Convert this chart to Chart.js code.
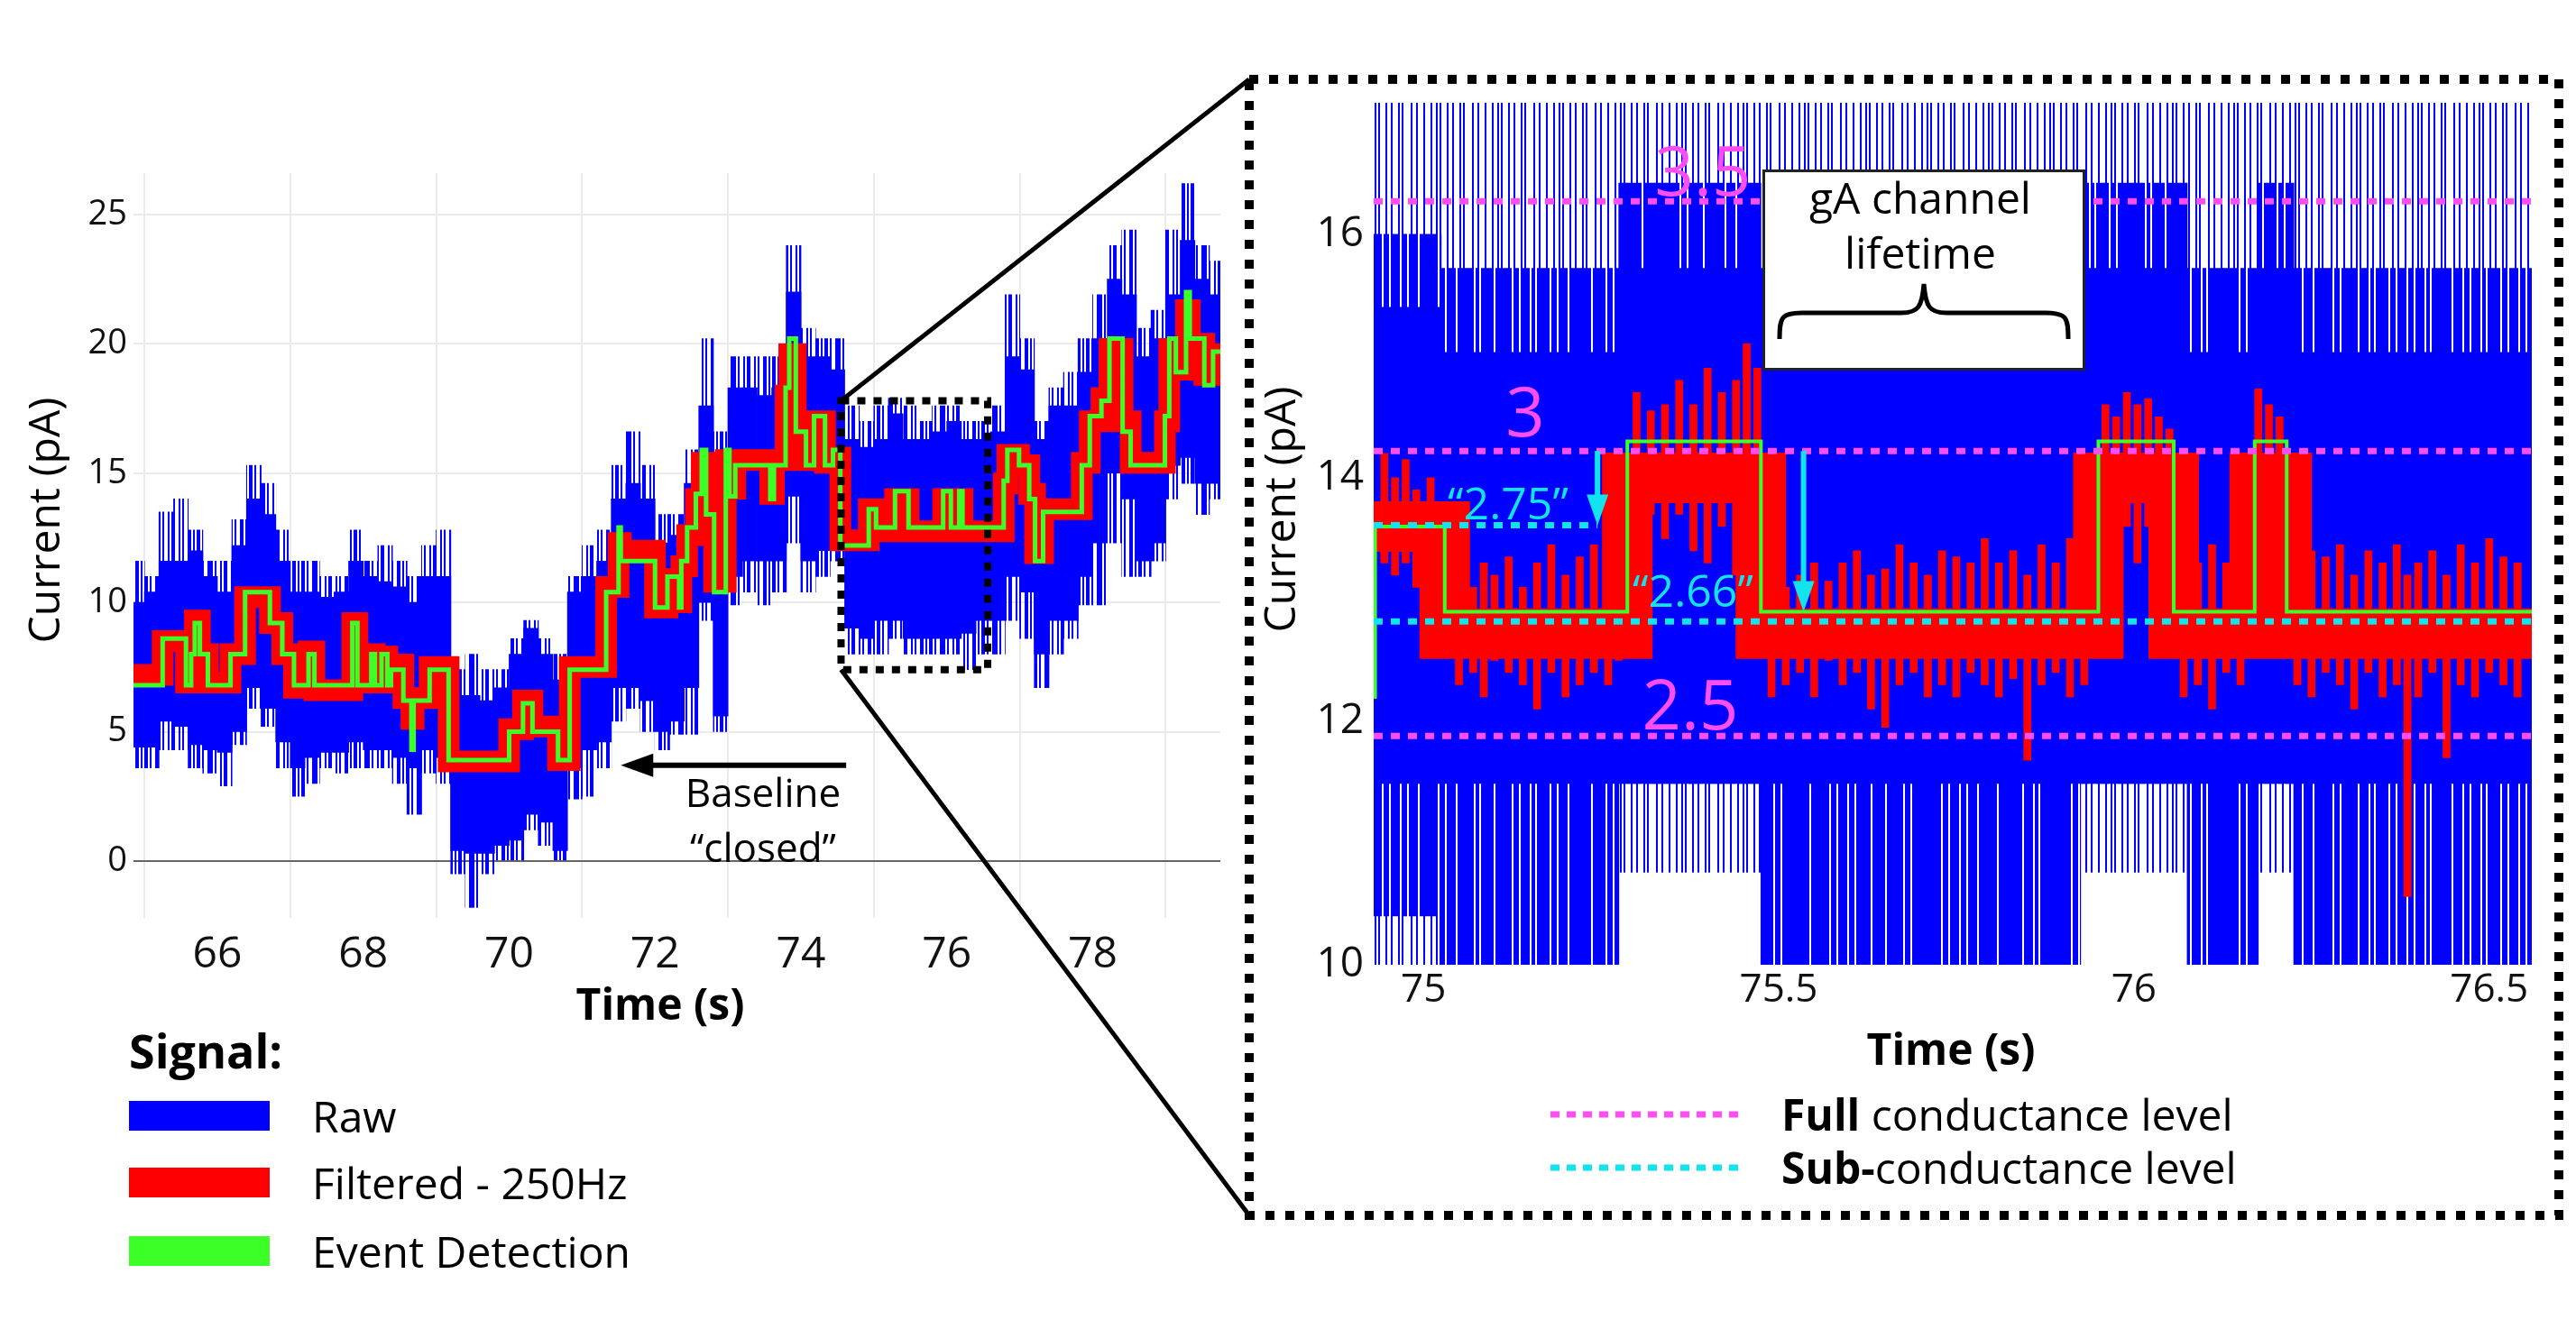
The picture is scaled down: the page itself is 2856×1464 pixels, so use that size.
<!DOCTYPE html>
<html><head><meta charset="utf-8">
<script src="https://cdn.jsdelivr.net/npm/chart.js@4.4.1/dist/chart.umd.min.js"></script>
<style>
html,body{margin:0;padding:0;background:#fff;}
body{width:2856px;height:1464px;position:relative;overflow:hidden;font-family:'Open Sans','Liberation Sans',sans-serif;color:#000;}
canvas{position:absolute;}
.c{position:absolute;white-space:nowrap;line-height:1;transform:translate(-50%,-50%);}
.l{position:absolute;white-space:nowrap;line-height:1;transform:translate(0,-50%);}
.sw{position:absolute;width:156px;height:33px;}
</style></head><body>
<canvas id="left" width="1400" height="1150" style="left:0;top:0;width:1400px;height:1150px"></canvas>
<canvas id="right" width="1456" height="1200" style="left:1400px;top:0;width:1456px;height:1200px"></canvas>
<div id="gabox" style="position:absolute;left:1954px;top:188px;width:352px;height:217px;border:3px solid #222;background:#fff;"></div>
<svg id="ov" width="2856" height="1464" style="position:absolute;left:0;top:0"></svg>

<div class="c" style="left:48px;top:577px;font-size:48px;transform:translate(-50%,-50%) rotate(-90deg)">Current (pA)</div>
<div class="c" style="left:732px;top:1113px;font-size:48px;font-weight:bold">Time (s)</div>
<div class="c" style="left:1418px;top:565px;font-size:48px;transform:translate(-50%,-50%) rotate(-90deg)">Current (pA)</div>
<div class="c" style="left:2163px;top:1163px;font-size:48px;font-weight:bold">Time (s)</div>

<div class="c" style="left:846px;top:878px;font-size:44px">Baseline</div>
<div class="c" style="left:846px;top:939px;font-size:44px">“closed”</div>

<div class="c" style="left:2129px;top:219px;font-size:48px">gA channel</div>
<div class="c" style="left:2129px;top:280px;font-size:48px">lifetime</div>

<div class="c" style="left:1888px;top:188px;font-size:76px;color:#ff4df5">3.5</div>
<div class="c" style="left:1691px;top:455px;font-size:76px;color:#ff4df5">3</div>
<div class="c" style="left:1874px;top:780px;font-size:76px;color:#ff4df5">2.5</div>
<div class="c" style="left:1672px;top:557px;font-size:50px;color:#11e4ee">“2.75”</div>
<div class="c" style="left:1877px;top:654px;font-size:50px;color:#11e4ee">“2.66”</div>

<div class="l" style="left:1975px;top:1236px;font-size:48px"><b>Full</b> conductance level</div>
<div class="l" style="left:1975px;top:1295px;font-size:48px"><b>Sub-</b>conductance level</div>

<div class="l" style="left:143px;top:1165px;font-size:52px;font-weight:bold">Signal:</div>
<div class="sw" style="left:143px;top:1221px;background:#0000ff"></div>
<div class="sw" style="left:143px;top:1295px;background:#ff0000"></div>
<div class="sw" style="left:143px;top:1371px;background:#3cff28"></div>
<div class="l" style="left:346px;top:1238px;font-size:48px">Raw</div>
<div class="l" style="left:346px;top:1312px;font-size:48px">Filtered - 250Hz</div>
<div class="l" style="left:346px;top:1388px;font-size:48px">Event Detection</div>

<script>
// ---------- LEFT PANEL DATA (full trace) ----------
const xTicksLeft = [66, 68, 70, 72, 74, 76, 78];
const yTicksLeft = [0, 5, 10, 15, 20, 25];
const rawT = [64.9,65.1,65.3,65.5,65.7,65.9,66.1,66.3,66.5,66.7,66.9,67.1,67.3,67.5,67.7,67.9,68.1,68.3,68.5,68.7,68.9,69.1,69.3,69.5,69.7,69.9,70.1,70.3,70.5,70.7,70.9,71.1,71.3,71.5,71.7,71.9,72.1,72.3,72.5,72.7,72.9,73.1,73.3,73.5,73.7,73.9,74.1,74.3,74.5,74.7,74.9,75.1,75.3,75.5,75.7,75.9,76.1,76.3,76.5,76.7,76.9,77.1,77.3,77.5,77.7,77.9,78.1,78.3,78.5,78.7,78.9,79.1,79.3,79.5,79.7];
const rawHi = [10.0,10.4,11.6,11.6,12.0,11.0,10.4,12.2,14.0,13.4,11.6,10.4,10.4,10.2,10.4,11.6,11.0,10.8,10.6,10.0,11.0,11.0,6.4,6.4,6.2,6.7,8.0,9.0,8.0,7.0,10.4,11.0,11.6,14.0,14.6,14.0,12.3,12.6,14.6,17.6,14.6,18.3,18.3,18.0,18.3,22.0,19.5,19.5,19.0,16.3,16.0,16.3,17.3,16.3,16.3,16.6,17.0,16.3,16.3,16.6,19.5,19.0,16.3,17.6,17.6,18.9,20.2,22.5,21.9,19.5,20.2,21.9,24.0,22.5,21.9];
const rawLo = [4.4,4.4,5.4,5.2,4.5,4.3,4.2,5.0,6.7,5.9,4.6,3.6,4.0,4.2,4.2,4.6,4.3,4.3,4.0,3.6,4.3,4.0,0.4,0.3,0.3,0.6,0.8,1.8,1.5,0.4,3.6,4.3,4.6,6.7,6.7,6.2,5.0,5.4,6.7,10.0,5.6,11.0,11.6,11.6,11.6,14.1,11.6,12.0,12.3,9.0,8.6,9.3,9.3,8.6,8.6,8.6,8.6,8.8,9.3,9.3,11.0,10.4,8.0,9.3,9.3,11.0,12.3,15.0,14.0,11.6,12.3,15.3,15.6,14.6,14.6];
const rawMax = [11.6,11.0,13.5,14.0,12.8,11.6,11.6,13.2,15.3,14.6,12.8,11.6,11.6,11.0,11.0,12.8,11.6,12.2,11.6,11.0,12.2,12.8,7.4,8.0,7.4,7.4,8.6,9.3,8.6,8.0,11.0,12.2,12.8,15.3,16.6,15.3,13.4,13.4,15.9,20.2,16.6,19.5,19.5,19.5,19.5,23.8,20.6,20.2,20.2,17.6,17.0,17.6,17.9,17.6,17.0,17.6,17.6,17.0,17.0,17.6,21.9,20.2,17.0,18.3,18.9,20.2,21.9,23.8,24.4,20.6,21.3,24.4,26.2,23.8,23.2];
const rawMin = [3.6,3.6,4.3,4.3,3.6,3.4,2.9,4.5,5.9,5.2,3.6,2.5,3.0,3.6,3.4,3.6,3.6,3.6,3.0,1.8,3.4,3.0,-0.5,-1.8,-0.5,0.0,0.0,1.2,0.6,0.0,2.4,2.5,3.6,5.4,5.9,5.0,4.3,4.9,4.9,9.3,5.0,9.9,10.4,9.9,10.4,12.3,10.4,11.0,11.6,8.0,8.0,8.0,8.6,8.0,8.0,8.0,8.0,7.4,8.0,8.0,9.3,8.6,6.7,8.0,8.6,9.9,9.9,12.3,11.0,11.0,11.6,14.0,14.6,13.4,14.0];
const greenT = [64.85,65.25,65.57,65.64,65.69,65.76,65.87,66.18,66.38,66.72,66.89,67.05,67.25,67.33,67.85,67.92,68.11,68.16,68.25,68.33,68.38,68.55,68.66,68.69,68.91,69.17,70.00,70.19,70.32,70.67,70.83,71.33,71.50,71.53,72.00,72.17,72.33,72.36,72.44,72.56,72.64,72.70,72.81,72.97,73.02,73.10,73.58,73.63,73.79,73.84,73.93,74.07,74.18,74.33,74.44,74.54,74.93,75.03,75.29,75.475,75.95,76.056,76.17,76.215,76.78,76.83,76.99,77.13,77.21,77.32,77.85,77.96,78.12,78.23,78.41,78.52,78.99,79.05,79.14,79.28,79.33,79.53,79.65,79.75];
const greenV = [6.8,8.6,6.8,8.0,9.2,8.0,6.8,8.0,10.4,9.2,8.0,6.8,8.0,6.8,9.2,6.8,8.0,6.8,8.0,6.8,7.4,6.2,4.3,6.2,7.4,3.9,5.0,6.1,5.0,3.9,7.4,10.4,12.9,11.6,9.8,11.0,9.8,11.6,12.9,14.2,15.9,13.4,10.4,15.9,14.1,15.3,14.0,15.3,18.3,20.2,16.6,15.3,17.2,15.3,15.9,12.2,13.6,12.9,14.3,12.9,14.3,12.9,14.3,12.9,14.7,15.9,15.3,14.0,11.6,13.5,15.3,17.2,17.8,20.2,16.6,15.3,17.2,20.2,18.9,22.0,20.2,18.4,19.7,19.7];
const filtV = [7.2,8.5,6.9,8.0,9.3,8.0,6.9,8.0,10.2,9.2,8.0,6.7,8.1,6.6,9.2,6.9,8.0,6.9,7.9,6.9,7.6,6.3,5.5,6.3,7.5,3.85,5.1,6.2,5.2,3.9,7.5,10.6,12.3,12.0,9.8,10.9,10.0,11.4,12.6,14.0,15.4,13.6,10.8,15.5,14.4,15.5,14.2,15.5,18.0,19.6,16.8,15.5,17.0,15.4,15.6,12.4,13.6,12.75,14.0,12.75,14.0,12.75,14.0,12.75,14.6,15.7,15.3,14.2,11.9,13.6,15.4,17.0,17.9,19.8,17.0,15.4,17.0,19.8,19.0,21.3,20.0,18.8,19.6,19.6];
const zoomBoxT = [74.55, 76.56];
const zoomBoxV = [7.4, 17.8];
const baselineArrowT = [71.53, 74.62];
const baselineArrowV = 3.7;

// ---------- RIGHT PANEL DATA (zoom 74.93 - 76.56 s) ----------
const xTicksRight = [75, 75.5, 76, 76.5];
const yTicksRight = [10, 12, 14, 16];
const rawRT = [74.95,75.00,75.05,75.10,75.15,75.20,75.25,75.30,75.35,75.40,75.45,75.50,75.55,75.60,75.65,75.70,75.75,75.80,75.85,75.90,75.95,76.00,76.05,76.10,76.15,76.20,76.25,76.30,76.35,76.40,76.45,76.50,76.55];
// sparse raw excursions
const rawRMax = [17.1,17.1,17.1,17.1,17.1,17.1,17.1,17.1,17.1,17.1,17.1,17.1,17.1,17.1,17.1,17.1,17.1,17.1,17.1,17.1,17.1,17.1,17.1,17.1,17.1,17.1,17.1,17.1,17.1,17.1,17.1,17.1,17.1];
const rawRMin = [10.0,10.0,10.0,10.0,10.0,10.0,10.0,10.76,10.76,10.76,10.76,10.0,10.0,10.0,10.0,10.0,10.0,10.0,10.0,10.0,10.76,10.76,10.76,10.0,10.0,10.76,10.0,10.0,10.0,10.0,10.0,10.0,10.0];
// dense raw band
const rawRHi2 = [16.0,16.0,15.72,15.72,15.72,15.72,15.72,16.42,16.42,16.42,16.42,15.72,15.72,15.72,15.72,15.72,15.72,15.72,15.72,15.72,16.42,16.42,16.42,15.72,15.72,16.42,15.72,15.72,15.72,15.72,15.72,15.72,15.72];
const rawRLo2 = [10.4,10.4,10.0,10.0,10.0,10.0,10.0,11.49,11.49,11.49,11.49,10.0,10.0,10.0,10.0,10.0,10.0,10.0,10.0,10.0,11.49,11.49,11.49,10.0,10.0,11.49,10.0,10.0,10.0,10.0,10.0,10.0,10.0];
// solid raw core
const rawRHi = [15.4,15.4,15.03,15.03,15.03,15.03,15.03,15.72,15.72,15.72,15.72,15.03,15.03,15.03,15.03,15.03,15.03,15.03,15.03,15.03,15.72,15.72,15.72,15.03,15.03,15.72,15.03,15.03,15.03,15.03,15.03,15.03,15.03];
const rawRLo = [11.49,11.49,11.49,11.49,11.49,11.49,11.49,11.49,11.49,11.49,11.49,11.49,11.49,11.49,11.49,11.49,11.49,11.49,11.49,11.49,11.49,11.49,11.49,11.49,11.49,11.49,11.49,11.49,11.49,11.49,11.49,11.49,11.49];
const filtRT = [74.93,75.03,75.287,75.475,75.95,76.056,76.17,76.215,76.56];
const filtRV = [13.6,12.72,14.0,12.72,14.0,12.72,14.0,12.72,12.72];
const spikeT = [74.945,74.96,74.975,74.99,75.01,75.05,75.07,75.085,75.10,75.12,75.14,75.16,75.18,75.20,75.22,75.24,75.26,75.275,75.30,75.32,75.34,75.36,75.38,75.40,75.42,75.44,75.455,75.47,75.49,75.51,75.53,75.55,75.57,75.59,75.61,75.63,75.65,75.67,75.69,75.71,75.73,75.75,75.77,75.79,75.81,75.83,75.85,75.87,75.89,75.91,75.93,75.96,75.975,75.99,76.005,76.02,76.035,76.05,76.07,76.09,76.11,76.13,76.15,76.175,76.19,76.205,76.23,76.25,76.27,76.29,76.31,76.33,76.35,76.37,76.385,76.40,76.42,76.44,76.46,76.48,76.50,76.52,76.54];
const spikeLo = [13.3,13.2,13.3,13.1,13.2,12.3,12.4,12.2,12.5,12.4,12.3,12.1,12.4,12.2,12.3,12.4,12.3,12.5,13.6,13.7,13.5,13.7,13.4,13.3,13.6,13.2,13.5,13.6,12.2,12.3,12.4,12.2,12.5,12.3,12.4,12.1,11.95,12.3,12.4,12.2,12.3,12.2,12.4,12.3,12.2,12.35,11.68,12.3,12.4,12.2,12.3,13.5,13.4,13.6,13.3,13.6,13.5,13.7,12.2,12.3,12.1,12.4,12.3,13.5,13.6,13.4,12.3,12.2,12.4,12.3,12.1,12.4,12.2,12.3,10.56,12.2,12.4,11.7,12.3,12.2,12.4,12.3,12.2];
const spikeHi = [14.2,14.0,14.15,13.9,14.0,13.2,13.1,13.3,13.2,13.35,13.1,13.3,13.45,13.2,13.35,13.45,13.5,13.3,14.7,14.55,14.6,14.8,14.6,14.9,14.7,14.8,15.1,14.9,13.2,13.1,13.2,13.3,13.15,13.3,13.4,13.2,13.25,13.45,13.3,13.2,13.4,13.35,13.3,13.5,13.3,13.4,13.2,13.45,13.3,13.5,13.4,14.6,14.5,14.7,14.6,14.65,14.5,14.4,13.2,13.3,13.45,13.3,13.2,14.73,14.6,14.5,13.3,13.4,13.35,13.45,13.2,13.4,13.3,13.45,13.2,13.3,13.4,13.2,13.45,13.3,13.5,13.35,13.3];
const greenRT = [74.93,74.932,75.03,75.287,75.475,75.95,76.056,76.17,76.215,76.56];
const greenRV = [12.2,13.6,12.9,14.3,12.9,14.3,12.9,14.3,12.9,12.9];
const fullLevels = [16.27, 14.22, 11.88];
const subLevels = [13.61, 12.82];
const subStartT = [74.93, 74.93];
const subEndT = [75.245, 76.56];
const arrowT = [75.245, 75.535];
const arrowFromV = [14.22, 14.22];
const arrowToV = [13.61, 12.9];

// ---------- styles ----------
const BLUE = '#0000ff', RED = '#ff0000', GREEN = '#3cff28';
const MAG = '#ff4df5', CYAN = '#11e4ee';
const FONT = "'Open Sans','Liberation Sans',sans-serif";
const pts = (xs, ys) => xs.map((x, i) => ({x: x, y: ys[i]}));
const bars = (xs, lo, hi) => xs.map((x, i) => ({x: x, y: [lo[i], hi[i]]}));
// hairline texture used to render the noisy raw trace excursions
function stripes(canvasId, bits, w) {
  const c = document.createElement('canvas');
  c.width = bits.length * w; c.height = 4;
  const g = c.getContext('2d');
  g.fillStyle = BLUE;
  for (let i = 0; i < bits.length; i++) if (bits[i] === '1') g.fillRect(i * w, 0, w, 4);
  return document.getElementById(canvasId).getContext('2d').createPattern(c, 'repeat');
}
const texLeft = stripes('left', '11010010110010100110101101001', 2);
const texDense = stripes('right', '1111011101111101110111110110111', 2);
const texSparse = stripes('right', '1001000101000010010001000100101000', 2);

const common = {
  responsive: false, animation: false, events: [],
  plugins: {legend: {display: false}, tooltip: {enabled: false}}
};

const leftChart = new Chart(document.getElementById('left'), {
  type: 'bar',
  data: {datasets: [
    {type: 'bar', label: 'Raw excursions', data: bars(rawT, rawMin, rawMax), backgroundColor: texLeft, barThickness: 16.3, grouped: false, order: 10, clip: 0},
    {type: 'bar', label: 'Raw', data: bars(rawT, rawLo, rawHi), backgroundColor: BLUE, barThickness: 16.3, grouped: false, order: 9, clip: 0},
    {type: 'line', label: 'Filtered - 250Hz', data: pts(greenT, filtV), borderColor: RED, borderWidth: 24, stepped: 'before', pointRadius: 0, borderJoinStyle: 'miter', borderCapStyle: 'butt', order: 5, clip: 0},
    {type: 'line', label: 'Event Detection', data: pts(greenT, greenV), borderColor: GREEN, borderWidth: 5, stepped: 'before', pointRadius: 0, order: 1, clip: 0}
  ]},
  options: Object.assign({}, common, {
    layout: {padding: {left: 0, top: 192, right: 47, bottom: 0}},
    scales: {
      x: {type: 'linear', min: 64.85, max: 79.75, offset: false,
        afterBuildTicks: s => { s.ticks = xTicksLeft.map(v => ({value: v})); },
        afterFit: s => { s.height = 132; },
        grid: {color: '#ebebeb', lineWidth: 2, drawTicks: false}, border: {display: false},
        ticks: {font: {family: FONT, size: 48}, color: '#111', padding: 13, maxRotation: 0, autoSkip: false, callback: v => String(v)}},
      y: {type: 'linear', min: -2.2, max: 26.6,
        afterBuildTicks: s => { s.ticks = yTicksLeft.map(v => ({value: v})); },
        afterFit: s => { s.width = 148; },
        grid: {color: c => (c.tick && c.tick.value === 0) ? '#666' : '#ebebeb', lineWidth: 2, drawTicks: false}, border: {display: false},
        ticks: {font: {family: FONT, size: 38}, color: '#111', padding: 7, callback: v => String(v)}}
    }
  })
});

const levelSets = [];
fullLevels.forEach(lv => levelSets.push({type: 'line', label: 'Full conductance level', data: pts([74.93, 76.56], [lv, lv]), borderColor: MAG, borderWidth: 7, borderDash: [10, 9], pointRadius: 0, order: 0, clip: 0}));
subLevels.forEach((lv, i) => levelSets.push({type: 'line', label: 'Sub-conductance level', data: pts([subStartT[i], subEndT[i]], [lv, lv]), borderColor: CYAN, borderWidth: 7, borderDash: [10, 9], pointRadius: 0, order: 0, clip: 0}));

const rightChart = new Chart(document.getElementById('right'), {
  type: 'bar',
  data: {datasets: [
    {type: 'bar', label: 'Raw sparse', data: bars(rawRT, rawRMin, rawRMax), backgroundColor: texSparse, barThickness: 39.5, grouped: false, order: 12, clip: 0},
    {type: 'bar', label: 'Raw dense', data: bars(rawRT, rawRLo2, rawRHi2), backgroundColor: texDense, barThickness: 39.5, grouped: false, order: 11, clip: 0},
    {type: 'bar', label: 'Raw', data: bars(rawRT, rawRLo, rawRHi), backgroundColor: BLUE, barThickness: 39.5, grouped: false, order: 10, clip: 0},
    {type: 'bar', label: 'Filtered spikes', data: bars(spikeT, spikeLo, spikeHi), backgroundColor: RED, barThickness: 8, grouped: false, order: 7, clip: 0},
    {type: 'line', label: 'Filtered - 250Hz', data: pts(filtRT, filtRV), borderColor: RED, borderWidth: 56, stepped: 'before', pointRadius: 0, borderJoinStyle: 'miter', borderCapStyle: 'butt', order: 6, clip: 0},
    {type: 'line', label: 'Event Detection', data: pts(greenRT, greenRV), borderColor: GREEN, borderWidth: 4, stepped: 'before', pointRadius: 0, order: 3, clip: 0}
  ].concat(levelSets)},
  options: Object.assign({}, common, {
    layout: {padding: {left: 0, top: 114, right: 49, bottom: 0}},
    scales: {
      x: {type: 'linear', min: 74.93, max: 76.56, offset: false,
        afterBuildTicks: s => { s.ticks = xTicksRight.map(v => ({value: v})); },
        afterFit: s => { s.height = 130; },
        grid: {display: false, drawTicks: false}, border: {display: false},
        ticks: {font: {family: FONT, size: 44}, color: '#111', padding: 2, maxRotation: 0, autoSkip: false, callback: v => String(v)}},
      y: {type: 'linear', min: 10, max: 17.08,
        afterBuildTicks: s => { s.ticks = yTicksRight.map(v => ({value: v})); },
        afterFit: s => { s.width = 123; },
        grid: {display: false, drawTicks: false}, border: {display: false},
        ticks: {font: {family: FONT, size: 46}, color: '#111', padding: 11, callback: v => String(v)}}
    }
  })
});

// ---------- overlay (box, connectors, arrows, brace, legend samples) ----------
function drawOverlay() {
  const lx = v => leftChart.scales.x.getPixelForValue(v), ly = v => leftChart.scales.y.getPixelForValue(v);
  const rx = v => 1400 + rightChart.scales.x.getPixelForValue(v), ry = v => rightChart.scales.y.getPixelForValue(v);
  let s = '';
  const bx0 = lx(zoomBoxT[0]), bx1 = lx(zoomBoxT[1]), by0 = ly(zoomBoxV[1]), by1 = ly(zoomBoxV[0]);
  s += `<rect x="${bx0}" y="${by0}" width="${bx1 - bx0}" height="${by1 - by0}" fill="none" stroke="#000" stroke-width="8" stroke-dasharray="9 9"/>`;
  s += `<rect x="1385" y="88" width="1452" height="1260" fill="none" stroke="#000" stroke-width="10" stroke-dasharray="10 12"/>`;
  s += `<line x1="${bx0}" y1="${by0}" x2="1385" y2="88" stroke="#000" stroke-width="5"/>`;
  s += `<line x1="${bx0}" y1="${by1}" x2="1385" y2="1348" stroke="#000" stroke-width="5"/>`;
  const ax = lx(baselineArrowT[0]), axe = lx(baselineArrowT[1]), ay = ly(baselineArrowV);
  s += `<line x1="${ax + 30}" y1="${ay}" x2="${axe}" y2="${ay}" stroke="#000" stroke-width="6"/>`;
  s += `<polygon points="${ax},${ay} ${ax + 36},${ay - 13} ${ax + 36},${ay + 13}" fill="#000"/>`;
  arrowT.forEach((t, i) => {
    const x = rx(t), y0 = ry(arrowFromV[i]), y1 = ry(arrowToV[i]);
    s += `<line x1="${x}" y1="${y0}" x2="${x}" y2="${y1 - 30}" stroke="${CYAN}" stroke-width="6"/>`;
    s += `<polygon points="${x},${y1} ${x - 12},${y1 - 34} ${x + 12},${y1 - 34}" fill="${CYAN}"/>`;
  });
  s += `<path d="M1973 376 C1973 352 1975 347 1998 347 L2108 347 C2127 347 2131 340 2133 315 C2135 340 2139 347 2158 347 L2268 347 C2291 347 2293 352 2293 376" fill="none" stroke="#000" stroke-width="5"/>`;
  s += `<line x1="1719" y1="1236" x2="1935" y2="1236" stroke="${MAG}" stroke-width="7" stroke-dasharray="10 8"/>`;
  s += `<line x1="1719" y1="1295" x2="1935" y2="1295" stroke="${CYAN}" stroke-width="7" stroke-dasharray="10 8"/>`;
  document.getElementById('ov').innerHTML = s;
}
drawOverlay();
</script>
</body></html>
